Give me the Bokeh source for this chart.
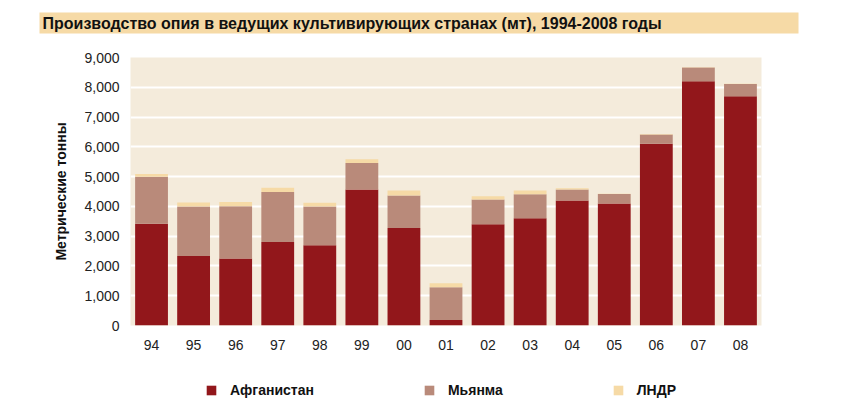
from bokeh.plotting import figure
from bokeh.layouts import column
from bokeh.models import (FactorRange, Range1d, NumeralTickFormatter, Legend, LegendItem,
                          Label, SingleIntervalTicker, ColumnDataSource)
from bokeh.embed import file_html
from bokeh.resources import INLINE

years = ["94", "95", "96", "97", "98", "99", "00", "01", "02", "03", "04", "05", "06", "07", "08"]
afghanistan = [3416, 2335, 2248, 2804, 2693, 4565, 3276, 185, 3400, 3600, 4200, 4100, 6100, 8200, 7700]
myanmar = [1583, 1664, 1760, 1676, 1303, 895, 1087, 1097, 828, 810, 370, 312, 315, 460, 410]
laos = [85, 128, 140, 147, 124, 124, 167, 134, 112, 120, 43, 14, 20, 9, 10]
series = ["Афганистан", "Мьянма", "ЛНДР"]
colors = ["#92171B", "#B98A7A", "#F6DAA6"]
title_text = "Производство опия в ведущих культивирующих странах (мт), 1994-2008 годы"
y_label = "Метрические тонны"

font = "Liberation Sans"
W = 828

# ---- title band ----
t = figure(width=W, height=36, x_range=Range1d(0, 1), y_range=Range1d(0, 1),
           output_backend="svg", toolbar_location=None, x_axis_type=None, y_axis_type=None,
           min_border_left=39, min_border_right=30, min_border_top=12, min_border_bottom=3,
           frame_align=False)
t.background_fill_color = "#F6DAA6"
t.outline_line_color = None
t.border_fill_color = "white"
t.xgrid.visible = False
t.ygrid.visible = False
t.add_layout(Label(x=0.004, y=0.5, text=title_text, text_baseline="middle",
                   text_font=font, text_font_size="16px", text_font_style="bold",
                   text_color="#111111"))

# ---- main chart ----
src = ColumnDataSource(dict(year=years, a=afghanistan, m=myanmar, l=laos))

p = figure(width=W, height=324, x_range=FactorRange(*years, range_padding=0),
           y_range=Range1d(0, 9000), output_backend="svg", toolbar_location=None,
           min_border_left=130, min_border_right=67, min_border_top=21, min_border_bottom=35,
           frame_align=False)

rs = p.vbar_stack(["a", "m", "l"], x="year", width=0.78, source=src,
                  color=colors, line_color=None)

p.background_fill_color = "#F4EBDB"
p.outline_line_color = None
p.border_fill_color = "white"
p.xgrid.grid_line_color = None
p.ygrid.grid_line_color = "white"
p.ygrid.grid_line_width = 2

p.yaxis.ticker = SingleIntervalTicker(interval=1000)
p.yaxis.formatter = NumeralTickFormatter(format="0,0")
for ax in (p.xaxis, p.yaxis):
    ax.axis_line_color = None
    ax.major_tick_line_color = None
    ax.major_tick_out = 0
    ax.major_tick_in = 0
    ax.minor_tick_line_color = None
    ax.major_label_text_font = font
    ax.major_label_text_font_size = "14px"
    ax.major_label_text_color = "#222222"
p.yaxis.major_label_standoff = 7
p.xaxis.major_label_standoff = 14
p.yaxis.axis_label = y_label
p.yaxis.axis_label_text_font = font
p.yaxis.axis_label_text_font_size = "14px"
p.yaxis.axis_label_text_font_style = "bold"
p.yaxis.axis_label_text_color = "#111111"
p.yaxis.axis_label_standoff = 12

# ---- legend strip ----
lg = figure(width=W, height=50, x_range=Range1d(0, 1), y_range=Range1d(0, 1),
            output_backend="svg", toolbar_location=None, x_axis_type=None, y_axis_type=None,
            min_border_left=0, min_border_right=0, min_border_top=0, min_border_bottom=0,
            frame_align=False)
lg.background_fill_color = "white"
lg.outline_line_color = None
lg.border_fill_color = "white"
lg.xgrid.visible = False
lg.ygrid.visible = False
dummies = [lg.vbar(x=[5], top=[1], width=0.1, color=c, line_color=None) for c in colors]
legend = Legend(items=[LegendItem(label=s, renderers=[r]) for s, r in zip(series, dummies)],
                orientation="horizontal", location=(205, 12), spacing=109,
                padding=0, margin=0,
                glyph_width=12, glyph_height=12, label_standoff=13,
                label_text_font=font, label_text_font_size="14px",
                label_text_font_style="bold", label_text_color="#111111",
                border_line_color=None, background_fill_alpha=0)
lg.add_layout(legend)

layout = column(t, p, lg, spacing=0)
open("out.html", "w").write(file_html(layout, INLINE))
